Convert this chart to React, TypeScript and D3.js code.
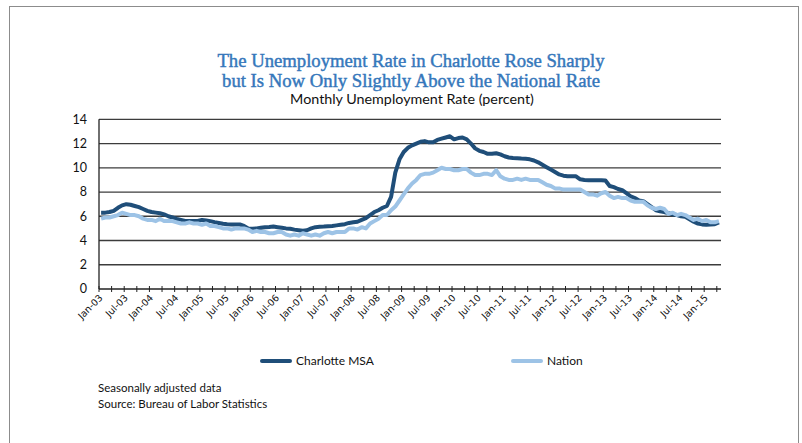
import React from "react";
import * as d3 from "d3";

const startYear = 2003;
const charlotte: number[] = [
  // 2003
  6.3, 6.3, 6.35, 6.45, 6.7, 6.9, 7.0, 6.95, 6.85, 6.75, 6.6, 6.45,
  // 2004
  6.35, 6.3, 6.25, 6.15, 6.0, 5.9, 5.78, 5.7, 5.62, 5.6, 5.6, 5.62,
  // 2005
  5.7, 5.65, 5.6, 5.52, 5.45, 5.38, 5.35, 5.33, 5.33, 5.32, 5.2, 5.0,
  // 2006
  4.97, 5.0, 5.05, 5.1, 5.12, 5.15, 5.1, 5.05, 5.0, 4.97, 4.9, 4.85,
  // 2007
  4.8, 4.85, 5.0, 5.1, 5.13, 5.15, 5.18, 5.2, 5.25, 5.3, 5.35, 5.45,
  // 2008
  5.5, 5.55, 5.7, 5.85, 6.1, 6.35, 6.5, 6.7, 6.85, 7.6, 9.6, 10.7,
  // 2009
  11.3, 11.65, 11.85, 12.0, 12.15, 12.2, 12.1, 12.1, 12.3, 12.4, 12.5, 12.6,
  // 2010
  12.35, 12.45, 12.5, 12.35, 12.0, 11.6, 11.4, 11.3, 11.15, 11.15, 11.2, 11.1,
  // 2011
  10.95, 10.85, 10.8, 10.78, 10.76, 10.75, 10.7, 10.6, 10.45, 10.25, 10.05, 9.85,
  // 2012
  9.65, 9.45, 9.35, 9.3, 9.3, 9.3, 9.05, 9.0, 8.98, 8.98, 8.98, 8.98,
  // 2013
  8.95, 8.5, 8.4, 8.25, 8.15, 7.9, 7.65, 7.5, 7.3, 7.25, 7.0, 6.75,
  // 2014
  6.5, 6.42, 6.35, 6.25, 6.15, 6.1, 6.0, 5.95, 5.75, 5.55, 5.4, 5.33,
  // 2015
  5.3, 5.33, 5.35, 5.5,
];

const nation: number[] = [
  5.8, 5.9, 5.9, 6.0, 6.1, 6.3, 6.2, 6.1, 6.1, 6.0, 5.8, 5.7,
  5.7, 5.6, 5.8, 5.6, 5.6, 5.6, 5.5, 5.4, 5.4, 5.5, 5.4, 5.4,
  5.3, 5.4, 5.2, 5.2, 5.1, 5.0, 5.0, 4.9, 5.0, 5.0, 5.0, 4.9,
  4.7, 4.8, 4.7, 4.7, 4.6, 4.6, 4.7, 4.7, 4.5, 4.4, 4.5, 4.4,
  4.6, 4.5, 4.4, 4.5, 4.4, 4.6, 4.7, 4.6, 4.7, 4.7, 4.7, 5.0,
  5.0, 4.9, 5.1, 5.0, 5.4, 5.6, 5.8, 6.1, 6.1, 6.5, 6.8, 7.3,
  7.8, 8.3, 8.7, 9.0, 9.4, 9.5, 9.5, 9.6, 9.8, 10.0, 9.9, 9.9,
  9.8, 9.8, 9.9, 9.9, 9.6, 9.4, 9.4, 9.5, 9.5, 9.4, 9.8, 9.3,
  9.1, 9.0, 9.0, 9.1, 9.0, 9.1, 9.0, 9.0, 9.0, 8.8, 8.6, 8.5,
  8.3, 8.3, 8.2, 8.2, 8.2, 8.2, 8.2, 8.0, 7.8, 7.8, 7.7, 7.9,
  8.0, 7.7, 7.5, 7.6, 7.5, 7.5, 7.3, 7.2, 7.2, 7.2, 6.9, 6.7,
  6.6, 6.7, 6.6, 6.2, 6.3, 6.1, 6.2, 6.1, 5.9, 5.7, 5.8, 5.6,
  5.7, 5.5, 5.5, 5.6,
];

const yTicks: number[] = [0, 2, 4, 6, 8, 10, 12, 14];
const monthNames: string[] = ["Jan", "Feb", "Mar", "Apr", "May", "Jun", "Jul", "Aug", "Sep", "Oct", "Nov", "Dec"];
const titleLines: string[] = [
  "The Unemployment Rate in Charlotte Rose Sharply",
  "but Is Now Only Slightly Above the National Rate",
];
const subtitle = "Monthly Unemployment Rate (percent)";
const notes: string[] = ["Seasonally adjusted data", "Source: Bureau of Labor Statistics"];
const seriesNames: string[] = ["Charlotte MSA", "Nation"];

const W = 802;
const H = 443;
const left = 99;
const right = 721;
const top = 119.3;
const bottom = 289;

export default function App() {
  const n = charlotte.length;
  const x = d3.scaleLinear().domain([0, n]).range([left, right]);
  const cx = (i: number) => x(i + 0.5);
  const y = d3.scaleLinear().domain([0, 14]).range([bottom, top]);

  const line = d3
    .line<number>()
    .x((_, i) => cx(i))
    .y((d) => y(d))
    .curve(d3.curveLinear);

  const ticks: number[] = d3.range(0, n + 1, 3);
  const labelTicks: number[] = d3.range(0, n, 6);

  const label = (i: number) => {
    const yr = startYear + Math.floor(i / 12);
    return `${monthNames[i % 12]}-${String(yr % 100).padStart(2, "0")}`;
  };

  const darkBlue = "#1f4e79";
  const lightBlue = "#9dc3e6";
  const sans = "Lato, 'Open Sans', sans-serif";
  const titleBlue = "#3577bb";

  return (
    <svg
      width={W}
      height={H}
      style={{ position: "absolute", left: 0, top: 0, background: "#fff" }}
    >
      <rect x={9.5} y={6.5} width={789} height={460} fill="#fff" stroke="#8c8c8c" strokeWidth={1} />

      {titleLines.map((t, i) => (
        <text
          key={t}
          x={411}
          y={67 + i * 19.5}
          textAnchor="middle"
          fontFamily="'Liberation Serif', serif"
          fontWeight={400}
          fontSize={18.7}
          fill={titleBlue}
          stroke={titleBlue}
          strokeWidth={0.45}
        >
          {t}
        </text>
      ))}
      <text x={412} y={104} textAnchor="middle" fontFamily={sans} fontSize={14.3} fill="#111">
        {subtitle}
      </text>

      {yTicks.map((v) => (
        <g key={v}>
          {v > 0 && (
            <line x1={left} x2={right} y1={y(v)} y2={y(v)} stroke="#3c3c3c" strokeWidth={1.3} />
          )}
          <text
            x={87}
            y={y(v)}
            dy="0.35em"
            textAnchor="end"
            fontFamily={sans}
            fontSize={12.5}
            fill="#111"
          >
            {v}
          </text>
        </g>
      ))}

      <line x1={left} x2={left} y1={top} y2={bottom} stroke="#222" strokeWidth={1.3} />
      <line x1={left} x2={right} y1={bottom} y2={bottom} stroke="#222" strokeWidth={1.3} />
      {ticks.map((t) => (
        <line key={t} x1={x(t)} x2={x(t)} y1={bottom - 3} y2={bottom + 3} stroke="#222" strokeWidth={1} />
      ))}
      {labelTicks.map((t) => (
        <text
          key={t}
          transform={`translate(${x(t) + 2},${bottom + 7}) rotate(-45)`}
          textAnchor="end"
          dy="0.35em"
          fontFamily="'DejaVu Sans', Verdana, sans-serif"
          fontSize={9.5}
          fill="#111"
        >
          {label(t)}
        </text>
      ))}

      <path d={line(charlotte) || ""} fill="none" stroke={darkBlue} strokeWidth={4} strokeLinejoin="round" />
      <path d={line(nation) || ""} fill="none" stroke={lightBlue} strokeWidth={4} strokeLinejoin="round" />

      {seriesNames.map((s, i) => {
        const lx = i === 0 ? 262 : 513;
        return (
          <g key={s}>
            <line
              x1={lx}
              x2={lx + 28}
              y1={361}
              y2={361}
              stroke={i === 0 ? darkBlue : lightBlue}
              strokeWidth={4}
              strokeLinecap="round"
            />
            <text x={lx + 34} y={361} dy="0.35em" fontFamily={sans} fontSize={12} fill="#111">
              {s}
            </text>
          </g>
        );
      })}

      {notes.map((t, i) => (
        <text key={t} x={98} y={392 + i * 16} fontFamily={sans} fontSize={11.5} fill="#111">
          {t}
        </text>
      ))}
    </svg>
  );
}
